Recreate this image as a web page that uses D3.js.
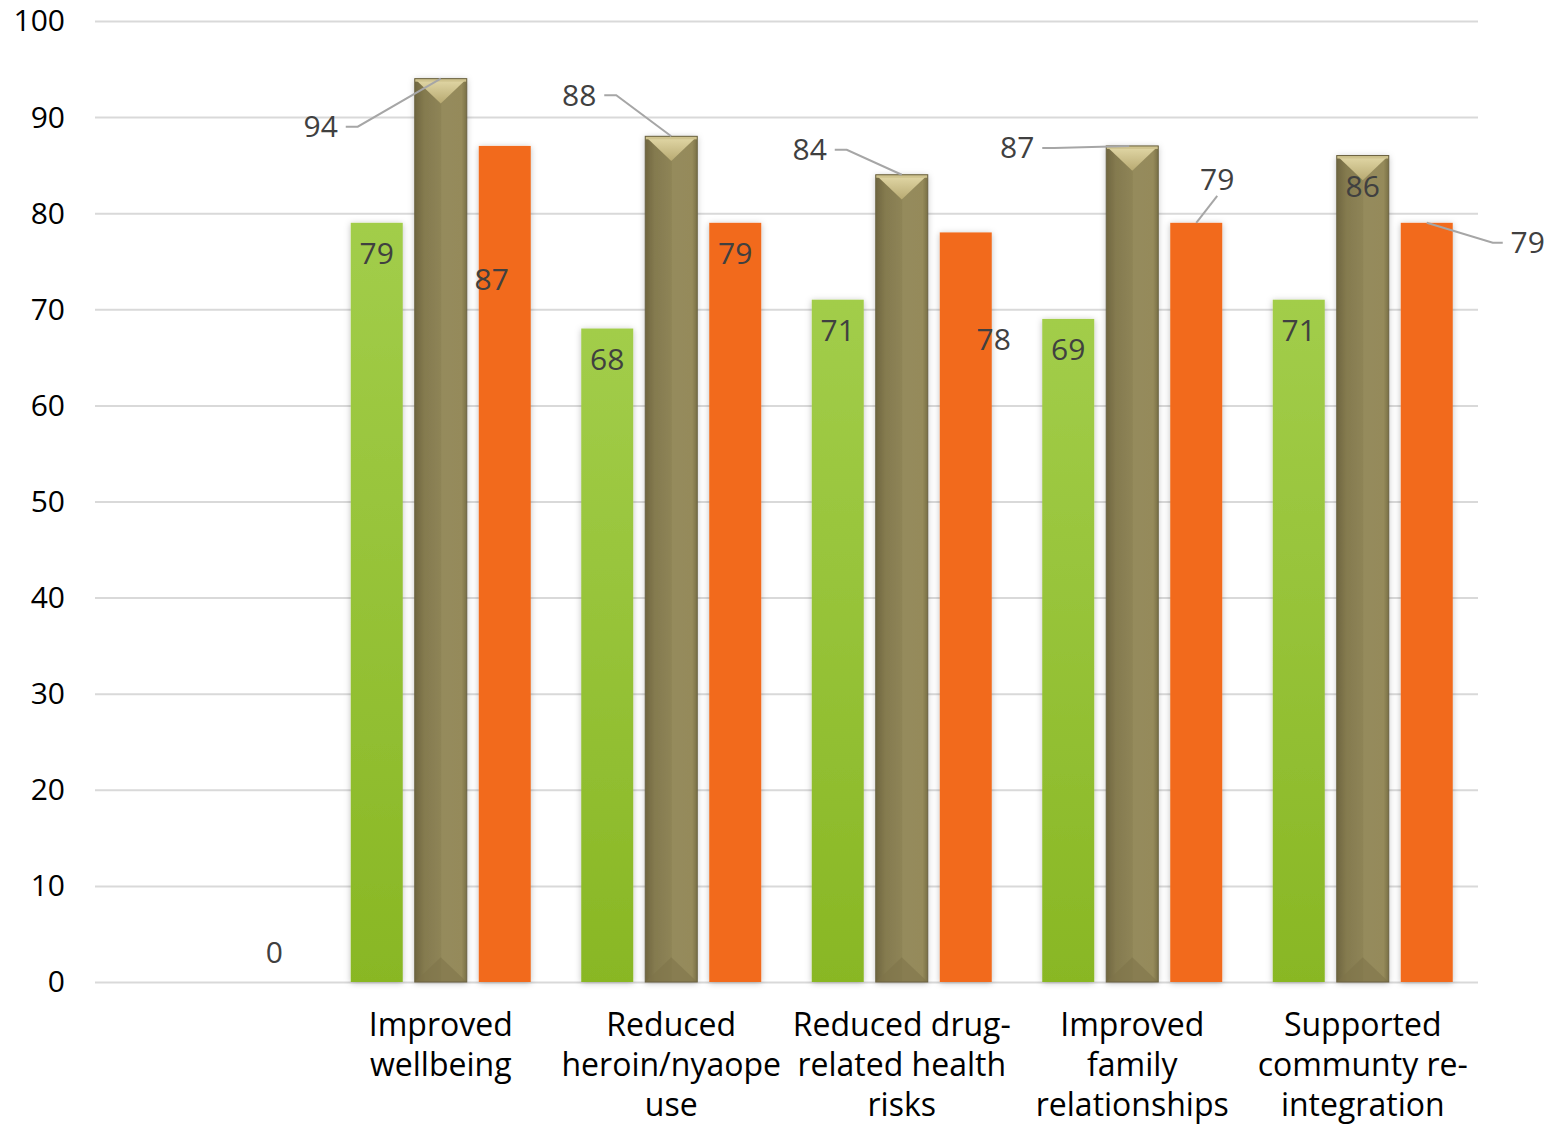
<!DOCTYPE html>
<html>
<head>
<meta charset="utf-8">
<script src="https://cdn.jsdelivr.net/npm/d3@7"></script>
<style>
  body { margin: 0; background: #fff; }
  text { font-family: "Open Sans", "Noto Sans", sans-serif; }
</style>
</head>
<body>
<svg id="graph"></svg>
<script>
/* data */
var categories = ["", "Improved wellbeing", "Reduced heroin/nyaope use", "Reduced drug-related health risks", "Improved family relationships", "Supported communty re-integration"];
var categoryLines = [[], ["Improved", "wellbeing"], ["Reduced", "heroin/nyaope", "use"], ["Reduced drug-", "related health", "risks"], ["Improved", "family", "relationships"], ["Supported", "communty re-", "integration"]];
var seriesNames = ["green", "olive", "orange"];
var greenValues = [null, 79, 68, 71, 69, 71];
var oliveValues = [null, 94, 88, 84, 87, 86];
var orangeValues = [0, 87, 79, 78, 79, 79];
var yTicks = [0, 10, 20, 30, 40, 50, 60, 70, 80, 90, 100];

/* label placement (offsets from the bar top centre, in px) -- as placed by hand in the original */
var greenLabelPos = [null, [0, 31], [0, 31], [0, 31], [0, 31], [0, 31]];
var oliveLabelPos = [null, [-120, 48, "left"], [-92, -41, "left"], [-92, -25, "left"], [-115, 2, "left"], [0, 31]];
var orangeLabelPos = [[0, -30], [-13, 134], [0, 31], [28, 107], [21, -43, "up"], [101, 20, "right"]];

var svg = d3.select("#graph")
    .attr("width", 1562)
    .attr("height", 1125);

var margin = {top: 21, right: 84, bottom: 143, left: 95},
    width = +svg.attr("width") - margin.left - margin.right,
    height = +svg.attr("height") - margin.top - margin.bottom;

var x0 = d3.scaleBand().domain(categories).range([0, width]);
var x1 = d3.scaleBand().domain(seriesNames)
    .range([(x0.bandwidth() - 180) / 2, (x0.bandwidth() + 180) / 2])
    .paddingInner(0.1875);
var y = d3.scaleLinear().domain([0, 100]).range([height, 0]);

var defs = svg.append("defs");

var gGreen = defs.append("linearGradient").attr("id", "gGreen")
    .attr("x1", 0).attr("y1", 0).attr("x2", 0).attr("y2", 1);
gGreen.append("stop").attr("offset", "0%").attr("stop-color", "#a2cd4a");
gGreen.append("stop").attr("offset", "100%").attr("stop-color", "#89b724");

var gOlive = defs.append("linearGradient").attr("id", "gOlive")
    .attr("x1", 0).attr("y1", 0).attr("x2", 1).attr("y2", 0);
gOlive.append("stop").attr("offset", "0%").attr("stop-color", "#6f663f");
gOlive.append("stop").attr("offset", "18%").attr("stop-color", "#847a4f");
gOlive.append("stop").attr("offset", "50%").attr("stop-color", "#8e8456");
gOlive.append("stop").attr("offset", "52%").attr("stop-color", "#958b5c");
gOlive.append("stop").attr("offset", "90%").attr("stop-color", "#958a5a");
gOlive.append("stop").attr("offset", "100%").attr("stop-color", "#7a7046");

var gBevel = defs.append("linearGradient").attr("id", "gBevel")
    .attr("x1", 0).attr("y1", 0).attr("x2", 0).attr("y2", 1);
gBevel.append("stop").attr("offset", "0%").attr("stop-color", "#e3d9a8");
gBevel.append("stop").attr("offset", "100%").attr("stop-color", "#b8aa72");

var shadow = defs.append("filter").attr("id", "shadow")
    .attr("x", "-30%").attr("y", "-10%").attr("width", "160%").attr("height", "120%");
shadow.append("feDropShadow").attr("dx", 0).attr("dy", 1).attr("stdDeviation", 3)
    .attr("flood-color", "#000").attr("flood-opacity", 0.25);

var g = svg.append("g")
    .attr("transform", "translate(" + margin.left + "," + margin.top + ")");

// gridlines + y labels
var yaxis = g.append("g")
    .attr("class", "axis axis--y")
    .call(d3.axisLeft(y).tickValues(yTicks).tickSize(-width).tickPadding(30));
yaxis.select(".domain").remove();
yaxis.selectAll(".tick line").attr("stroke", "#d9d9d9").attr("stroke-width", 2);
yaxis.selectAll(".tick text").attr("font-size", 30).attr("fill", "#000")
    .attr("font-family", "'Open Sans', sans-serif").attr("dy", "0.33em");

// base line with shadow
g.append("line")
    .attr("x1", 0).attr("x2", width)
    .attr("y1", height + 1).attr("y2", height + 1)
    .attr("stroke", "#d0d0d0").attr("stroke-width", 3)
    .attr("filter", "url(#shadow)");

var series = [
  {name: "green", values: greenValues, pos: greenLabelPos},
  {name: "olive", values: oliveValues, pos: oliveLabelPos},
  {name: "orange", values: orangeValues, pos: orangeLabelPos}
];

var bw = x1.bandwidth();

series.forEach(function(s) {
  var gs = g.append("g").attr("class", "series " + s.name);
  s.values.forEach(function(v, i) {
    if (v === null || v === 0) return;
    var bx = x0(categories[i]) + x1(s.name);
    var by = y(v);
    var bh = height - by;
    var fill = s.name === "green" ? "url(#gGreen)" : s.name === "olive" ? "url(#gOlive)" : "#f26b1d";
    gs.append("rect")
      .attr("x", bx).attr("y", by).attr("width", bw).attr("height", bh)
      .attr("fill", fill)
      .attr("filter", "url(#shadow)");
    if (s.name === "olive") {
      // bevel top
      gs.append("path")
        .attr("d", "M" + bx + "," + by + "L" + (bx + bw) + "," + by + "L" + (bx + bw / 2) + "," + (by + bw / 2.1) + "Z")
        .attr("fill", "url(#gBevel)");
      gs.append("rect").attr("x", bx).attr("y", by).attr("width", bw).attr("height", 3)
        .attr("fill", "#cfc38e");
      // bevel bottom
      gs.append("path")
        .attr("d", "M" + bx + "," + height + "L" + (bx + bw) + "," + height + "L" + (bx + bw / 2) + "," + (height - bw / 2.1) + "Z")
        .attr("fill", "#7d7349").attr("opacity", 0.55);
      // edges
      gs.append("rect").attr("x", bx).attr("y", by).attr("width", bw).attr("height", bh)
        .attr("fill", "none").attr("stroke", "#6a6140").attr("stroke-width", 1);
    }
  });
});

// data labels
series.forEach(function(s) {
  s.values.forEach(function(v, i) {
    if (v === null) return;
    var cx = x0(categories[i]) + x1(s.name) + bw / 2;
    var top = y(v);
    var p = s.pos[i];
    var lx = cx + p[0], ly = top + p[1];
    var pts = null;
    if (p[2] === "left") {
      pts = [[lx + 25, ly], [lx + 37, ly], [cx - (i === 4 ? 3 : 0), top]];
    } else if (p[2] === "up") {
      pts = [[lx, ly + 16], [cx, top]];
    } else if (p[2] === "right") {
      pts = [[lx - 25, ly], [lx - 35, ly], [cx, top]];
    }
    if (pts) {
      g.append("path")
        .attr("d", d3.line()(pts))
        .attr("fill", "none").attr("stroke", "#a6a6a6").attr("stroke-width", 2);
    }
    g.append("text")
      .attr("x", lx).attr("y", ly)
      .attr("dy", "0.35em")
      .attr("text-anchor", "middle")
      .attr("font-size", 30)
      .attr("fill", "#404040")
      .text(v);
  });
});

// category labels
var xaxis = g.append("g").attr("class", "axis axis--x")
  .attr("transform", "translate(0," + height + ")");
categories.forEach(function(c, i) {
  var t = xaxis.append("text")
    .attr("x", x0(c) + x0.bandwidth() / 2)
    .attr("y", 54)
    .attr("text-anchor", "middle")
    .attr("font-size", 32)
    .attr("fill", "#000");
  categoryLines[i].forEach(function(line, k) {
    t.append("tspan").attr("x", x0(c) + x0.bandwidth() / 2).attr("dy", k === 0 ? 0 : 40).text(line);
  });
});
</script>
</body>
</html>
